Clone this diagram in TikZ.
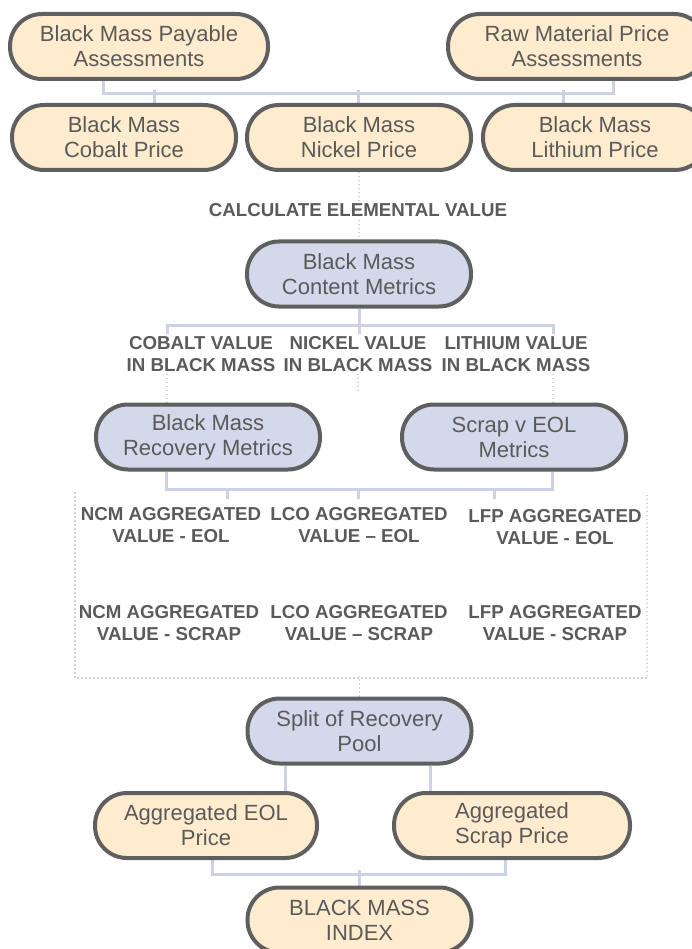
\documentclass[tikz,border=0pt]{standalone}
\usepackage{fontspec}
\setmainfont{Liberation Sans}
\usepackage{xcolor}
\usetikzlibrary{positioning,backgrounds,calc}
\definecolor{PriceFill}{HTML}{FFECCE}
\definecolor{MetricFill}{HTML}{D3D8EA}
\definecolor{EdgeGray}{HTML}{5F5F5F}
\definecolor{LinkBlue}{HTML}{CBD2E6}
\definecolor{TextGray}{HTML}{5A5A5A}

\begin{document}
\begin{tikzpicture}[x=1pt,y=1pt,
    every node/.style={text=TextGray, align=center},
    pill/.style={draw=EdgeGray, line width=4pt, rounded corners=32pt,
                 minimum height=65pt, minimum width=224pt, inner sep=0pt,
                 font=\fontsize{22}{25}\selectfont},
    pricebox/.style={pill, fill=PriceFill},
    metricbox/.style={pill, fill=MetricFill},
    steplabel/.style={font=\bfseries\fontsize{18.7}{22}\selectfont, inner sep=2pt},
    link/.style={LinkBlue, line width=3pt},
    dots/.style={LinkBlue, line width=1.8pt, dash pattern=on 1.5pt off 2.5pt}]
  \useasboundingbox (0,0) rectangle (692,-949);

  % price inputs
  \node[pricebox, minimum width=258pt] (pay) at (139,-46.5) {Black Mass Payable\\Assessments};
  \node[pricebox, minimum width=258pt] (raw) at (577,-46.5) {Raw Material Price\\Assessments};
  \node[pricebox] (cob) at (124,-137.5) {Black Mass\\Cobalt Price};
  \node[pricebox] (nic) at (359,-137.5) {Black Mass\\Nickel Price};
  \node[pricebox] (lit) at (595,-137.5) {Black Mass\\Lithium Price};

  % elemental value
  \node[metricbox] (cnt) at (359,-274) {Black Mass\\Content Metrics};
  \node[steplabel] (cobv) at (201,-354) {COBALT VALUE\\IN BLACK MASS};
  \node[steplabel] (nicv) at (358,-354) {NICKEL VALUE\\IN BLACK MASS};
  \node[steplabel] (litv) at (516,-354) {LITHIUM VALUE\\IN BLACK MASS};

  % recovery
  \node[metricbox] (rec) at (208,-437) {Black Mass\\Recovery Metrics};
  \node[metricbox] (scr) at (514,-437) {Scrap v EOL\\Metrics};
  \node[steplabel] (ncme) at (171,-525) {NCM AGGREGATED\\VALUE - EOL};
  \node[steplabel] (lcoe) at (359,-525) {LCO AGGREGATED\\VALUE -- EOL};
  \node[steplabel] (lfpe) at (555,-527) {LFP AGGREGATED\\VALUE - EOL};
  \node[steplabel] (ncms) at (169,-623) {NCM AGGREGATED\\VALUE - SCRAP};
  \node[steplabel] (lcos) at (359,-623) {LCO AGGREGATED\\VALUE -- SCRAP};
  \node[steplabel] (lfps) at (555,-623) {LFP AGGREGATED\\VALUE - SCRAP};

  % index
  \node[metricbox] (spl) at (359.5,-731) {Split of Recovery\\Pool};
  \node[pricebox, minimum width=222pt] (eol) at (206,-825.5) {Aggregated EOL\\Price};
  \node[pricebox, minimum width=236pt] (scp) at (512,-825.5) {Aggregated\\Scrap Price};
  \node[pricebox] (idx) at (359.5,-920) {BLACK MASS\\INDEX};

  \begin{scope}[on background layer]
    \draw[link] ([xshift=-36pt]pay.south) -- ++(0,-13) -| ([xshift=36pt]raw.south);
    \foreach \n/\s in {cob/30,nic/-1,lit/-32}
      \draw[link] ([xshift=\s pt]\n.north) -- ++(0,13);
    \draw[dots] (nic.south) -- (cnt.north);

    \draw[link] (cnt.south) -- ++(0,-16.5) coordinate (bus2) -- ++(0,-9);
    \draw[link] ([shift={(-192,-9)}]bus2) -- ++(0,9) -- ++(386,0) -- ++(0,-9);
    \coordinate (k1) at ([xshift=-192pt]bus2);
    \coordinate (k2) at ([xshift=194pt]bus2);
    \draw[dots] (cobv.south -| k1) -- (rec.north -| k1);
    \draw[dots] (nicv.south) -- ++(0,-18);
    \draw[dots] (litv.south -| k2) -- (scr.north -| k2);

    \draw[link] ([xshift=-42pt]rec.south) -- ++(0,-17.5) coordinate (bus3) -| ([xshift=38pt]scr.south);
    \foreach \d in {61,192,328}
      \draw[link] ([xshift=\d pt]bus3) -- ++(0,-10);
    \draw[dots] (75,-492) |- (647,-678) -- (647,-492);
    \draw[dots] (spl.north) -- ++(0,20.5);

    \draw[link] ([xshift=-74.5pt]spl.south) -- ([xshift=-74.5pt]spl.south |- eol.north);
    \draw[link] ([xshift=70.5pt]spl.south) -- ([xshift=70.5pt]spl.south |- scp.north);
    \draw[link] ([xshift=6pt]eol.south) -- ++(0,-14) -| ([xshift=-7pt]scp.south);
    \draw[link] (idx.north) -- ++(0,15.5);
  \end{scope}

  \node[steplabel, fill=white] (calc) at (358,-210) {CALCULATE ELEMENTAL VALUE};
\end{tikzpicture}
\end{document}
